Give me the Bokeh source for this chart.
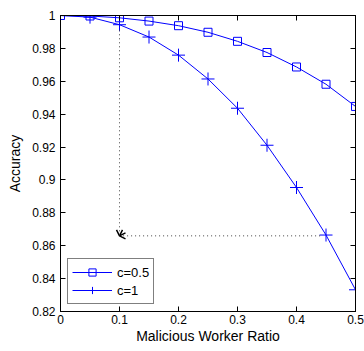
from bokeh.plotting import figure
from bokeh.models import (LinearAxis, FixedTicker, CustomJSTickFormatter, Range1d,
                          Arrow, OpenHead, Legend, LegendItem)
from bokeh.embed import file_html
from bokeh.resources import INLINE

ratio = [0.0, 0.05, 0.1, 0.15, 0.2, 0.25, 0.3, 0.35, 0.4, 0.45, 0.5]
acc_c05 = [1.0, 0.9997, 0.9986, 0.9966, 0.9938, 0.9898, 0.9843, 0.9775, 0.9687, 0.9582, 0.9447]
acc_c1 = [1.0, 0.9990, 0.9944, 0.9869, 0.9759, 0.9614, 0.9436, 0.9211, 0.8954, 0.8665, 0.8332]
x_ticks = [0, 0.1, 0.2, 0.3, 0.4, 0.5]
y_ticks = [0.82, 0.84, 0.86, 0.88, 0.9, 0.92, 0.94, 0.96, 0.98, 1.0]
annot_x = [0.1, 0.44]
annot_y = [0.991, 0.866]

FONT = "Liberation Sans"
BLUE = "#0000ff"

p = figure(width=364, height=351, output_backend="svg", toolbar_location=None,
           x_range=Range1d(0, 0.5), y_range=Range1d(0.82, 1.0),
           x_axis_location=None, y_axis_location=None,
           min_border_left=60, min_border_right=9, min_border_top=15, min_border_bottom=40)
p.grid.visible = False
p.outline_line_color = "black"
p.outline_line_width = 1
p.background_fill_color = "white"
p.border_fill_color = "white"

fmt = CustomJSTickFormatter(code="return String(Math.round(tick*100)/100);")
empty = CustomJSTickFormatter(code="return '';")

def style(ax, labels=True):
    ax.major_tick_in = 5
    ax.major_tick_out = 0
    ax.minor_tick_line_color = None
    ax.axis_line_color = "black"
    ax.major_tick_line_color = "black"
    if labels:
        ax.major_label_text_font = FONT
        ax.major_label_text_font_size = "12px"
        ax.major_label_text_color = "black"
        ax.major_label_standoff = 3
        ax.axis_label_text_font = FONT
        ax.axis_label_text_font_size = "14px"
        ax.axis_label_text_font_style = "normal"
        ax.axis_label_text_color = "black"
        ax.axis_label_standoff = 1
    else:
        ax.major_label_text_font_size = "0px"
        ax.major_label_standoff = 0

bottom = LinearAxis(ticker=FixedTicker(ticks=x_ticks), formatter=fmt, axis_label="Malicious Worker Ratio")
left = LinearAxis(ticker=FixedTicker(ticks=y_ticks), formatter=fmt, axis_label="Accuracy")
top = LinearAxis(ticker=FixedTicker(ticks=x_ticks), formatter=empty)
right = LinearAxis(ticker=FixedTicker(ticks=y_ticks), formatter=empty)
style(bottom); style(left); style(top, False); style(right, False)
left.major_label_standoff = 5
left.axis_label_standoff = 6
p.add_layout(bottom, "below")
p.add_layout(left, "left")
p.add_layout(top, "above")
p.add_layout(right, "right")

# annotation arrows (dotted)
p.add_layout(Arrow(x_start=annot_x[0], y_start=annot_y[0], x_end=annot_x[0], y_end=annot_y[1],
                   line_color="#444444", line_dash="1 3", line_width=1,
                   end=OpenHead(size=6, line_color="black", line_width=1.5)))
p.add_layout(Arrow(x_start=annot_x[1], y_start=annot_y[1], x_end=annot_x[0], y_end=annot_y[1],
                   line_color="#444444", line_dash="1 3", line_width=1,
                   end=OpenHead(size=6, line_color="black", line_width=1.5)))

l1 = p.line(ratio, acc_c05, line_color=BLUE, line_width=1)
m1 = p.scatter(ratio, acc_c05, marker="square", size=8, line_color=BLUE, fill_color=None, line_width=1)
l2 = p.line(ratio, acc_c1, line_color=BLUE, line_width=1)
m2 = p.scatter(ratio, acc_c1, marker="cross", size=13, line_color=BLUE, line_width=1)

legend = Legend(items=[LegendItem(label="c=0.5", renderers=[l1, m1]),
                       LegendItem(label="c=1", renderers=[l2, m2])],
                location="bottom_left")
legend.border_line_color = "black"
legend.border_line_width = 1
legend.background_fill_color = "white"
legend.background_fill_alpha = 1
legend.label_text_font = FONT
legend.label_text_font_size = "13px"
legend.label_text_color = "black"
legend.glyph_width = 40
legend.glyph_height = 18
legend.label_height = 18
legend.label_standoff = 5
legend.spacing = 0
legend.padding = 4
legend.margin = 7
p.add_layout(legend)

open("out.html", "w").write(file_html(p, INLINE))
